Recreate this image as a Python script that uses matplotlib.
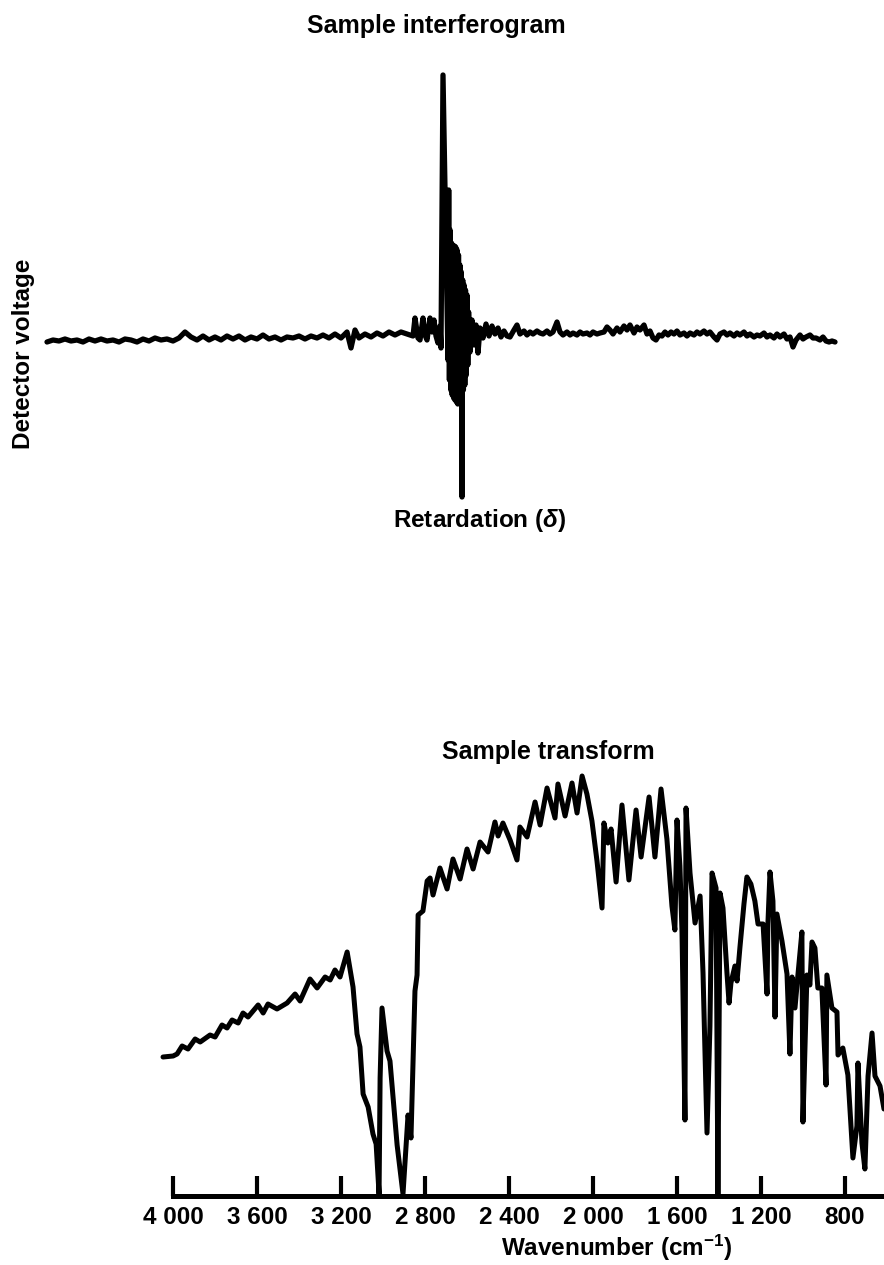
import matplotlib
matplotlib.use("Agg")
import matplotlib.pyplot as plt
import numpy as np

plt.rcParams["font.family"] = ["Liberation Sans", "DejaVu Sans"]
plt.rcParams["font.weight"] = "bold"
plt.rcParams["mathtext.fontset"] = "custom"
plt.rcParams["mathtext.rm"] = "Liberation Sans:bold"
plt.rcParams["mathtext.it"] = "Liberation Sans:italic:bold"
plt.rcParams["mathtext.bf"] = "Liberation Sans:bold"

# ---------------- interferogram (retardation, arbitrary units; detector voltage, mV) ----
ret_left = [-403, -397, -391, -385, -379, -373, -367, -361, -355, -349,
            -343, -337, -331, -325, -319, -313, -307, -301, -295, -289,
            -283, -277, -271, -265, -259, -253, -247, -241, -235, -229,
            -223, -217, -211, -205, -199, -193, -187, -181, -175, -169,
            -163, -157, -151, -145, -139, -133, -127, -121, -115, -109,
            -103, -99, -95, -91, -85, -79, -73, -67, -61, -55,
            -49, -43]
volt_left = [-2, 0, -1, 1, -1, 0, -2, 1, -1, 1,
             -1, 0, -2, 1, 0, -2, 1, -1, 2, 0,
             1, -1, 2, 8, 3, 0, 4, 0, 3, 0,
             4, 1, 4, 0, 3, 1, 5, 1, 3, 0,
             3, 2, 4, 1, 4, 2, 5, 2, 6, 2,
             8, -8, 10, 2, 6, 3, 7, 4, 8, 5,
             8, 6]

# centre burst: densely sampled around zero path difference
ret_burst = [-37, -35, -32, -30, -27, -25, -23, -20, -18, -16,
             -14, -12, -10, -9, -7, -2, -1.3, -0.6, 0.1, 0.8,
             1.5, 2.2, 2.9, 3.6, 4.3, 5.0, 5.7, 6.4, 7.1, 7.8,
             8.5, 9.2, 9.9, 10.6, 11.3, 12.0, 12.7, 13.4, 14.1, 14.8,
             15.5, 16.3, 17.0, 17.8, 18.6, 20, 22, 24, 26, 28,
             30]
volt_burst = [4, 22, 2, 0, 22, 5, 0, 22, 8, 20,
              4, -3, 14, -8, 265, -20, 150, -40, 110, -50,
              97, -55, 95, -58, 94, -60, 93, -62, 90, -64,
              85, -60, 75, -58, 68, -157, 60, -50, 55, -45,
              50, -35, 45, -25, 28, -12, 20, -5, 15, -13,
              12]

ret_right = [33, 36, 39, 42, 45, 48, 51, 54, 57, 60,
             64, 67, 70, 74, 77, 80, 83, 87, 90, 93,
             97, 100, 103, 107, 110, 113, 117, 120, 123, 127,
             130, 133, 137, 140, 143, 147, 150, 154, 157, 160,
             163, 167, 170, 174, 177, 180, 184, 187, 190, 194,
             197, 200, 203, 206, 209, 212, 215, 218, 221, 224,
             227, 230, 234, 237, 240, 244, 247, 250, 254, 257,
             260, 264, 267, 270, 274, 277, 280, 284, 287, 290,
             294, 297, 300, 304, 307, 310, 314, 317, 320, 324,
             327, 330, 334, 337, 340, 343, 346, 350, 353, 356,
             360, 363, 366, 370, 373, 376, 379, 382, 385]
volt_right = [2, 16, 4, 14, 6, 12, 3, 9, 4, 3,
              10, 15, 6, 9, 5, 8, 6, 9, 7, 6,
              9, 6, 8, 18, 8, 5, 8, 5, 7, 5,
              8, 6, 7, 5, 8, 6, 7, 8, 13, 10,
              6, 12, 8, 14, 10, 15, 7, 13, 10, 15,
              6, 9, 2, 0, 5, 4, 8, 5, 8, 6,
              9, 5, 7, 4, 7, 5, 8, 6, 9, 6,
              8, 3, 0, 6, 8, 5, 7, 4, 7, 5,
              8, 4, 6, 3, 5, 4, 7, 3, 5, 2,
              6, 3, 6, 1, 3, -7, 0, 5, 1, 3,
              5, 2, 2, 0, 3, -1, -2, -1, -2]

# ---------------- single-beam spectrum (wavenumber, cm^-1; intensity, arbitrary units) ----
wavenumber = [4048, 4000, 3981, 3957, 3929, 3895, 3871, 3824, 3800, 3767,
              3743, 3719, 3690, 3667, 3643, 3595, 3571, 3548, 3505, 3457,
              3419, 3395, 3348, 3314, 3276, 3252, 3229, 3205, 3171, 3143,
              3124, 3110, 3095, 3071, 3048, 3033, 3019, 3014, 3005, 2981,
              2967, 2933, 2905, 2881, 2867, 2848, 2838, 2833, 2810, 2790,
              2776, 2762, 2729, 2695, 2667, 2633, 2600, 2571, 2538, 2500,
              2467, 2452, 2429, 2395, 2362, 2348, 2314, 2276, 2252, 2219,
              2181, 2167, 2133, 2100, 2076, 2052, 2029, 2005, 1981, 1957,
              1948, 1929, 1914, 1890, 1862, 1829, 1795, 1771, 1733, 1705,
              1676, 1648, 1624, 1610, 1600, 1586, 1576, 1562, 1557, 1538,
              1514, 1490, 1476, 1457, 1443, 1433, 1414, 1405, 1395, 1381,
              1362, 1352, 1343, 1324, 1314, 1300, 1281, 1267, 1248, 1229,
              1214, 1190, 1171, 1167, 1157, 1143, 1133, 1124, 1100, 1076,
              1062, 1052, 1038, 1024, 1005, 1000, 981, 967, 957, 943,
              929, 910, 890, 886, 862, 838, 833, 810, 786, 762,
              743, 738, 719, 705, 690, 671, 657, 633, 614]
intensity = [139, 140, 142, 150, 147, 157, 154, 161, 159, 171,
             168, 176, 173, 183, 179, 191, 183, 192, 187, 193,
             202, 195, 217, 208, 219, 216, 226, 219, 244, 209,
             162, 149, 102, 89, 62, 52, 2, 118, 188, 145,
             135, 51, 2, 81, 58, 205, 221, 281, 285, 315,
             318, 301, 328, 307, 337, 317, 347, 327, 354, 344,
             374, 360, 373, 356, 336, 369, 359, 394, 371, 408,
             378, 412, 380, 413, 383, 420, 402, 375, 335, 288,
             373, 353, 367, 314, 391, 316, 386, 339, 399, 339,
             407, 357, 290, 266, 376, 330, 263, 76, 388, 323,
             273, 300, 223, 63, 170, 323, 308, 2, 303, 288,
             223, 193, 213, 230, 215, 249, 292, 319, 312, 295,
             272, 272, 202, 272, 324, 295, 179, 282, 255, 222,
             142, 219, 188, 221, 264, 74, 221, 211, 254, 248,
             208, 208, 111, 221, 188, 184, 141, 148, 121, 38,
             70, 133, 53, 27, 120, 163, 120, 110, 87]

tick_values = [4000, 3600, 3200, 2800, 2400, 2000, 1600, 1200, 800]
tick_labels = ["4 000", "3 600", "3 200", "2 800", "2 400", "2 000", "1 600", "1 200", "800"]

retardation = np.array(ret_left + ret_burst + ret_right, dtype=float)
voltage = np.array(volt_left + volt_burst + volt_right, dtype=float)
assert len(retardation) == len(voltage)
assert len(wavenumber) == len(intensity)

W, H = 884, 1265
fig = plt.figure(figsize=(W / 100, H / 100), dpi=100)


def frame(left, top, right, bottom):
    return [left / W, 1 - bottom / H, (right - left) / W, (bottom - top) / H]


ink = "black"
fs = 17.5

# ---- upper panel: interferogram ----
ax1 = fig.add_axes(frame(40, 60, 842, 510))
ax1.plot(retardation, voltage, color=ink, lw=3.8,
         solid_joinstyle="round", solid_capstyle="round")
ax1.set_xlim(-410, 392)
ax1.set_ylim(-170, 280)
ax1.axis("off")

fig.text(436.5 / W, 1 - 33 / H, "Sample interferogram", ha="center",
         va="baseline", fontsize=18, fontweight="bold")
fig.text(480 / W, 1 - 527 / H, r"Retardation ($\delta$)", ha="center",
         va="baseline", fontsize=fs, fontweight="bold")
fig.text(24 / W, 1 - 354 / H, "Detector voltage", ha="center", va="center",
         rotation=90, fontsize=fs, fontweight="bold")

# ---- lower panel: transformed spectrum ----
ax2 = fig.add_axes(frame(150, 760, 884, 1196))
ax2.plot(wavenumber, intensity, color=ink, lw=3.6, clip_on=False,
         solid_joinstyle="round", solid_capstyle="round")
ax2.set_xlim(4110, 614)
ax2.set_ylim(0, 436)
for side in ("top", "right", "left"):
    ax2.spines[side].set_visible(False)
ax2.spines["bottom"].set_linewidth(3.6)
ax2.spines["bottom"].set_bounds(4000, 614)
ax2.spines["bottom"].set_capstyle("projecting")
ax2.set_yticks([])
ax2.set_xticks(tick_values)
ax2.set_xticklabels(tick_labels)
ax2.tick_params(axis="x", direction="in", length=14.5, width=3, pad=7,
                labelsize=fs, colors=ink)
for lab in ax2.get_xticklabels():
    lab.set_fontweight("bold")
ax2.set_xlabel("Wavenumber (cm$^{-1}$)", fontsize=fs, fontweight="bold")
ax2.xaxis.set_label_coords((617 - 150) / 734, (1196 - 1248) / 436)
ax2.xaxis.label.set_verticalalignment("center")

fig.text(548 / W, 1 - 752 / H, "Sample transform", ha="center", va="center",
         fontsize=18, fontweight="bold")

fig.savefig("out.png", dpi=100, facecolor="white")
